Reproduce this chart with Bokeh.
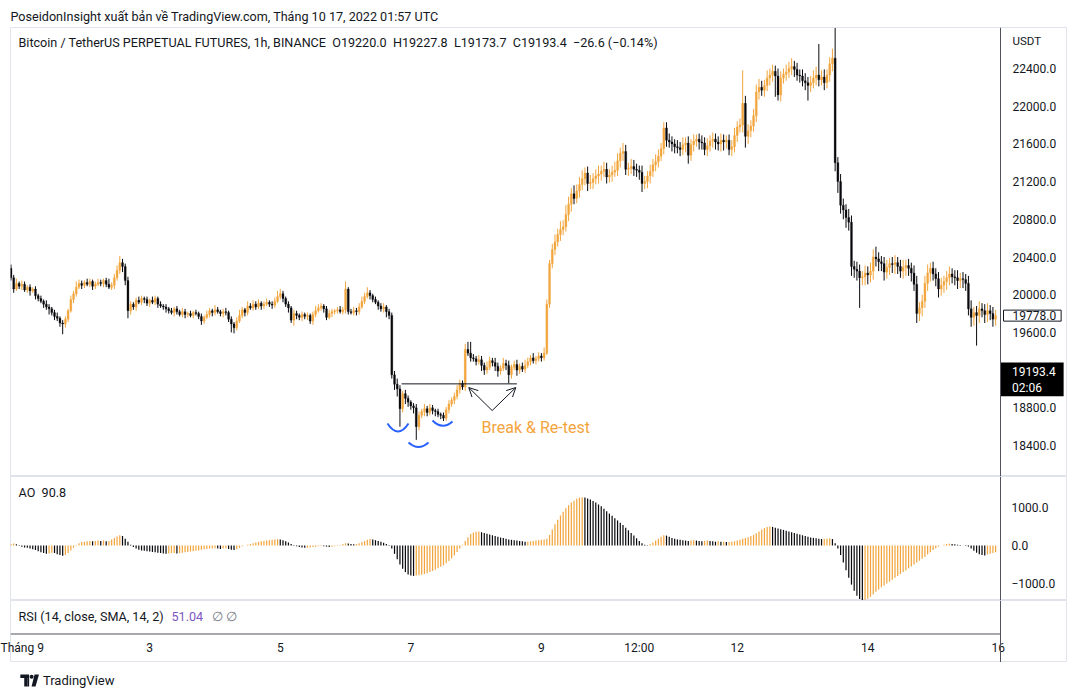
import numpy as np
import pandas as pd
from bokeh.plotting import figure
from bokeh.layouts import column
from bokeh.models import (Range1d, LinearAxis, FixedTicker, Label, Arrow, OpenHead,
                          ColumnDataSource, PrintfTickFormatter, Span)
from bokeh.embed import file_html
from bokeh.resources import INLINE

# ---------------- data (BTCUSDT perpetual, 1h) ----------------
start_time = "2022-08-31 21:00"
first_open = 20280
close = [
    20180, 20060, 20120, 20090, 20110, 20050, 20080, 20040, 20060, 19990,
    19960, 19930, 19900, 19870, 19850, 19810, 19770, 19750, 19700, 19690,
    19740, 19830, 19950, 20010, 20080, 20120, 20100, 20130, 20110, 20140,
    20090, 20110, 20130, 20120, 20150, 20110, 20080, 20100, 20180, 20260,
    20340, 20300, 20150, 19830, 19900, 19870, 19940, 19920, 19960, 19950,
    19910, 19940, 19920, 19960, 19900, 19880, 19870, 19850, 19830, 19810,
    19850, 19820, 19790, 19820, 19790, 19800, 19780, 19810, 19800, 19770,
    19720, 19760, 19790, 19830, 19810, 19840, 19820, 19800, 19820, 19810,
    19740, 19690, 19650, 19720, 19780, 19840, 19810, 19880, 19860, 19900,
    19870, 19910, 19880, 19900, 19920, 19900, 19890, 19930, 19980, 20010,
    19960, 19900, 19860, 19730, 19800, 19780, 19760, 19790, 19770, 19780,
    19720, 19790, 19830, 19860, 19880, 19850, 19760, 19800, 19820, 19830,
    19840, 19820, 19840, 20060, 19820, 19810, 19830, 19820, 19870, 19930,
    19980, 20020, 19990, 19950, 19920, 19880, 19850, 19870, 19820, 19780,
    19150, 19050, 19000, 18790, 18950, 18900, 18860, 18820, 18800, 18600,
    18720, 18760, 18790, 18750, 18800, 18770, 18760, 18730, 18720, 18690,
    18780, 18840, 18880, 18920, 18990, 19060, 19020, 19420, 19380, 19330,
    19320, 19290, 19310, 19250, 19200, 19230, 19300, 19280, 19240, 19190,
    19220, 19270, 19250, 19150, 19230, 19260, 19200, 19240, 19210, 19250,
    19290, 19330, 19300, 19320, 19350, 19330, 19380, 19900, 20330, 20480,
    20560, 20640, 20690, 20720, 20850, 20960, 21070, 21020, 21100, 21170,
    21230, 21290, 21180, 21190, 21230, 21260, 21280, 21310, 21330, 21250,
    21270, 21300, 21320, 21420, 21500, 21520, 21330, 21340, 21360, 21330,
    21320, 21300, 21180, 21200, 21260, 21310, 21380, 21410, 21470, 21550,
    21770, 21640, 21620, 21600, 21570, 21560, 21540, 21590, 21610, 21480,
    21590, 21630, 21650, 21620, 21610, 21540, 21580, 21630, 21650, 21620,
    21600, 21640, 21620, 21640, 21540, 21570, 21690, 21780, 21800, 22030,
    21680, 21740, 21790, 21900, 22150, 22200, 22170, 22220, 22300, 22330,
    22370, 22320, 22120, 22300, 22340, 22360, 22400, 22420, 22390, 22330,
    22320, 22270, 22250, 22220, 22250, 22300, 22330, 22280, 22310, 22250,
    22330, 22450, 22510, 21400, 21200, 20950, 20900, 20820, 20770, 20300,
    20270, 20250, 20180, 20190, 20230, 20210, 20250, 20400, 20380, 20350,
    20330, 20240, 20290, 20330, 20320, 20340, 20300, 20250, 20290, 20310,
    20280, 20230, 20110, 19800, 19860, 19930, 20120, 20230, 20280, 20220,
    20170, 20060, 20100, 20140, 20180, 20220, 20190, 20180, 20150, 20170,
    20160, 20120, 19850, 19760, 19810, 19780, 19850, 19830, 19790, 19830,
    19800, 19740, 19778,
]
wick_up = [
    40, 30, 50, 20, 40, 30, 20, 30, 20, 30,
    20, 30, 20, 40, 30, 20, 30, 40, 20, 30,
    30, 20, 40, 30, 60, 40, 30, 20, 40, 30,
    20, 30, 40, 30, 20, 30, 60, 30, 40, 50,
    70, 40, 30, 40, 30, 20, 30, 40, 30, 20,
    30, 20, 40, 30, 20, 30, 20, 30, 20, 30,
    20, 30, 20, 40, 30, 20, 30, 20, 30, 20,
    30, 20, 40, 30, 20, 50, 30, 20, 30, 40,
    20, 30, 20, 40, 60, 30, 20, 50, 30, 40,
    30, 40, 20, 30, 40, 20, 30, 40, 60, 50,
    30, 20, 30, 20, 40, 30, 20, 30, 20, 30,
    20, 30, 50, 40, 30, 20, 30, 40, 30, 20,
    30, 40, 30, 80, 20, 30, 40, 30, 40, 50,
    40, 60, 30, 20, 30, 20, 30, 40, 20, 30,
    30, 40, 60, 40, 30, 40, 30, 20, 30, 40,
    40, 30, 50, 30, 40, 30, 20, 30, 20, 30,
    30, 40, 30, 40, 50, 40, 30, 60, 80, 120,
    40, 30, 50, 40, 30, 60, 40, 30, 50, 40,
    30, 60, 40, 50, 30, 40, 50, 30, 40, 60,
    40, 30, 50, 30, 40, 30, 60, 50, 40, 60,
    80, 60, 90, 70, 100, 80, 60, 90, 70, 80,
    90, 60, 70, 80, 60, 70, 90, 60, 80, 70,
    60, 70, 90, 80, 60, 90, 70, 60, 80, 70,
    60, 50, 70, 60, 50, 70, 60, 80, 70, 60,
    60, 60, 70, 60, 50, 70, 60, 80, 60, 70,
    60, 70, 50, 60, 70, 60, 80, 60, 70, 60,
    60, 70, 60, 50, 60, 70, 80, 60, 70, 350,
    80, 70, 60, 70, 80, 90, 70, 60, 80, 70,
    70, 60, 80, 70, 60, 80, 70, 90, 60, 70,
    60, 70, 80, 60, 70, 80, 90, 330, 70, 80,
    60, 70, 100, 320, 60, 80, 70, 60, 90, 70,
    60, 80, 70, 60, 80, 70, 90, 80, 110, 70,
    60, 70, 80, 60, 70, 80, 60, 70, 80, 60,
    70, 60, 80, 90, 60, 70, 80, 90, 60, 70,
    60, 70, 80, 60, 70, 80, 60, 70, 80, 60,
    70, 60, 80, 90, 60, 70, 80, 60, 70, 80,
    60, 70, 60,
]
wick_down = [
    30, 40, 20, 30, 40, 20, 30, 50, 20, 40,
    30, 20, 40, 30, 60, 30, 40, 30, 40, 110,
    40, 30, 20, 40, 30, 20, 40, 30, 20, 30,
    40, 30, 20, 30, 40, 30, 20, 30, 40, 30,
    40, 60, 50, 80, 40, 30, 40, 20, 30, 40,
    30, 40, 20, 30, 40, 20, 30, 40, 30, 20,
    40, 30, 20, 30, 40, 30, 20, 30, 20, 30,
    40, 30, 20, 30, 40, 30, 20, 30, 40, 30,
    30, 90, 60, 30, 20, 30, 40, 30, 20, 30,
    30, 20, 40, 30, 20, 30, 40, 30, 20, 30,
    40, 30, 50, 30, 60, 40, 30, 40, 30, 40,
    30, 40, 30, 20, 30, 40, 30, 20, 40, 30,
    30, 20, 30, 40, 30, 20, 30, 40, 30, 20,
    30, 20, 40, 30, 20, 40, 30, 40, 60, 40,
    40, 60, 80, 190, 40, 60, 50, 40, 60, 140,
    40, 30, 50, 40, 30, 40, 50, 30, 40, 30,
    30, 40, 30, 40, 30, 40, 30, 40, 30, 40,
    30, 40, 30, 60, 50, 40, 30, 40, 50, 60,
    40, 30, 50, 90, 40, 30, 60, 40, 30, 40,
    30, 40, 30, 40, 30, 40, 30, 20, 40, 50,
    60, 50, 70, 60, 50, 70, 80, 60, 50, 70,
    60, 70, 80, 60, 70, 60, 80, 70, 60, 70,
    60, 70, 50, 60, 70, 80, 60, 70, 60, 70,
    70, 80, 90, 60, 70, 80, 60, 70, 60, 50,
    60, 70, 60, 80, 70, 60, 70, 60, 80, 90,
    60, 70, 60, 80, 70, 60, 70, 60, 70, 80,
    70, 80, 90, 70, 60, 70, 60, 70, 60, 80,
    120, 80, 70, 60, 70, 80, 60, 70, 60, 80,
    70, 220, 60, 70, 60, 70, 60, 70, 80, 60,
    70, 60, 80, 160, 70, 60, 80, 70, 60, 80,
    60, 70, 80, 90, 120, 90, 100, 110, 90, 100,
    90, 100, 320, 80, 90, 100, 80, 90, 80, 100,
    80, 90, 70, 80, 90, 100, 80, 70, 80, 90,
    80, 90, 70, 100, 80, 90, 70, 80, 90, 70,
    80, 90, 70, 80, 90, 80, 70, 80, 90, 80,
    90, 80, 70, 100, 90, 320, 80, 70, 90, 80,
    70, 80, 70,
]
ao = [
    40, 50, 30, -10, -30, -50, -60, -80, -100, -120,
    -150, -180, -200, -220, -210, -190, -200, -230, -250, -270,
    -250, -200, -130, -60, 10, 60, 90, 100, 110, 120,
    110, 120, 130, 120, 130, 110, 120, 160, 200, 240,
    270, 250, 180, 100, 20, -40, -80, -110, -130, -140,
    -150, -160, -170, -180, -190, -200, -210, -220, -210, -200,
    -200, -210, -200, -190, -180, -170, -160, -150, -140, -130,
    -110, -100, -90, -80, -80, -70, -80, -90, -80, -70,
    -90, -110, -120, -100, -60, -20, 0, 20, 40, 60,
    80, 100, 110, 120, 130, 140, 150, 160, 170, 160,
    140, 110, 80, 40, 10, -20, -40, -50, -60, -60,
    -50, -40, -30, -20, -10, -20, -30, -40, -30, -20,
    -10, 10, 40, 60, 50, 40, 30, 40, 60, 90,
    120, 150, 170, 160, 140, 120, 100, 70, 40, 10,
    -80, -220, -360, -500, -610, -700, -760, -790, -800, -790,
    -780, -770, -750, -730, -700, -670, -640, -600, -560, -520,
    -470, -410, -340, -260, -170, -80, 20, 120, 220, 300,
    340, 360, 370, 350, 330, 310, 290, 270, 250, 230,
    210, 200, 180, 160, 150, 140, 130, 120, 110, 100,
    100, 110, 120, 130, 140, 150, 160, 180, 280, 420,
    560, 680, 790, 890, 980, 1060, 1130, 1180, 1230, 1260,
    1270, 1260, 1240, 1210, 1170, 1130, 1080, 1030, 970, 900,
    840, 780, 720, 660, 600, 540, 470, 400, 330, 260,
    190, 120, 60, 20, 10, 30, 80, 130, 180, 230,
    270, 260, 230, 200, 180, 160, 150, 140, 130, 120,
    130, 140, 130, 120, 110, 120, 130, 120, 110, 100,
    110, 100, 100, 90, 90, 100, 110, 130, 150, 180,
    200, 220, 250, 280, 320, 370, 420, 460, 490, 500,
    490, 470, 450, 430, 410, 390, 370, 350, 330, 310,
    290, 270, 250, 230, 210, 200, 190, 180, 170, 170,
    180, 190, 170, 60, -80, -250, -450, -650, -850, -1030,
    -1190, -1320, -1410, -1440, -1430, -1400, -1350, -1290, -1220, -1160,
    -1100, -1050, -1000, -950, -900, -850, -800, -750, -700, -650,
    -600, -550, -500, -450, -400, -350, -300, -240, -180, -120,
    -70, -30, 0, 20, 40, 50, 40, 30, 20, 10,
    0, -10, -30, -80, -140, -190, -230, -250, -260, -240,
    -220, -200, -180,
]
price_ticks = [18400, 18800, 19600, 20000, 20400, 20800, 21200, 21600, 22000, 22400]
ao_ticks = [-1000, 0, 1000]
ao_tick_labels = ["\u22121000.0", "0.0", "1000.0"]
time_tick_times = ["2022-09-01 00:00", "2022-09-03 00:00", "2022-09-05 00:00", "2022-09-07 00:00",
                   "2022-09-09 00:00", "2022-09-10 12:00", "2022-09-12 00:00", "2022-09-14 00:00",
                   "2022-09-16 00:00"]
time_tick_labels = ["Tháng 9", "3", "5", "7", "9", "12:00", "12", "14", "16"]

NB = "\u00a0"
header = "PoseidonInsight xuất bản về TradingView.com, Tháng 10 17, 2022 01:57 UTC"
legend = NB.join(["Bitcoin / TetherUS PERPETUAL FUTURES, 1h, BINANCE", "", "O19220.0", "",
                  "H19227.8", "", "L19173.7", "", "C19193.4", "", "\u221226.6 (\u22120.14%)"])
last_bar_price = 19778.0
live_price = 19193.4
countdown = "02:06"
ao_value = "90.8"
rsi_title = "RSI (14, close, SMA, 14, 2)"
rsi_value = "51.04"

# annotation drawn on the chart (time in hours from start, price)
break_level = 19054
break_from, break_to = 143.6, 186.0
arrow_vertex = (176.9, 18771)
arrow_left = (168.3, 19015)
arrow_right = (185.6, 19015)

# ---------------- styling / geometry ----------------
FONT = "Roboto"
TS = "12.6px"
INK = "#131722"
ORANGE = "#F2A53C"
BLACK = "#0A0A0E"
LIGHT = "#E0E3EB"
DARK = "#50535E"
BLUE = "#2962FF"

PX_PER_H = 2.72
X_LO = -0.18
X_HI = X_LO + 1056 / PX_PER_H   # frame spans page x 10 .. 1066
USD_PER_PX = 10.61


def hx(px):  # page x pixel -> hours
    return X_LO + (px - 10) / PX_PER_H


def py(ypx):  # page y pixel -> price (main pane)
    return 22400 - (ypx - 68) * USD_PER_PX


def ay(ypx):  # page y pixel -> AO value
    return (545 - ypx) / 38 * 1000


def ry(ypx):  # page y pixel -> RSI/time pane units (0..100 over page y 662..600)
    return (662 - ypx) / 62 * 100


n = len(close)
c = np.array(close, dtype=float)
o = np.array([first_open] + close[:-1], dtype=float)
top = np.maximum(o, c)
bot = np.minimum(o, c)
hi = top + np.array(wick_up)
lo = bot - np.array(wick_down)
x = np.arange(n)
t0 = pd.Timestamp(start_time)
colors = np.where(c >= o, ORANGE, BLACK)
src = ColumnDataSource(dict(x=x, top=top, bot=bot, hi=hi, lo=lo, color=colors))

ao_arr = np.array(ao, dtype=float)
ao_prev = np.concatenate([[ao_arr[0] - 1], ao_arr[:-1]])
ao_colors = np.where(ao_arr >= ao_prev, ORANGE, BLACK)
ao_src = ColumnDataSource(dict(x=x, ao=ao_arr, color=ao_colors))

xr = Range1d(X_LO, X_HI)
SCALE_X = hx(1000)   # left edge of the price scale


def style_axis(ax):
    ax.major_tick_line_color = None
    ax.minor_tick_line_color = None
    ax.major_tick_out = 0
    ax.major_tick_in = 0
    ax.axis_line_color = None
    ax.major_label_text_font = FONT
    ax.major_label_text_font_size = "12px"
    ax.major_label_text_color = INK


def base_fig(h, yr, bottom=0, top_b=0, yloc="right"):
    f = figure(width=1076, height=h, x_range=xr, y_range=yr, output_backend="svg",
               toolbar_location=None, x_axis_location=None, y_axis_location=yloc,
               min_border_left=10, min_border_right=10, min_border_top=top_b,
               min_border_bottom=bottom, outline_line_color=LIGHT,
               background_fill_color="white", border_fill_color="white")
    f.grid.visible = False
    f.add_layout(Span(location=SCALE_X, dimension="height", line_color=DARK, line_width=1))
    return f


def text(fig, xx, yy, s, color=INK, size=TS, **kw):
    fig.add_layout(Label(x=xx, y=yy, text=s, text_font=FONT, text_font_size=size,
                         text_color=color, text_baseline=kw.pop("baseline", "middle"), **kw))


# ---- main price pane ----
pm = base_fig(476, Range1d(py(476), py(27)), top_b=27)
pm.title.text = header
pm.title.text_font = FONT
pm.title.text_font_size = TS
pm.title.text_font_style = "normal"
pm.title.text_color = INK
pm.title.align = "left"
pm.title.standoff = 7
ax = pm.yaxis[0]
style_axis(ax)
ax.ticker = FixedTicker(ticks=price_ticks)
ax.formatter = PrintfTickFormatter(format="%.1f")
ax.major_label_standoff = -54

pm.segment(x0="x", y0="hi", x1="x", y1="lo", line_color="color", line_width=1, source=src)
pm.vbar(x="x", width=0.72, top="top", bottom="bot", fill_color="color", line_color="color",
        line_width=0.3, source=src)

pm.segment(x0=[break_from], y0=[break_level], x1=[break_to], y1=[break_level],
           line_color=INK, line_width=1)
for end in (arrow_left, arrow_right):
    pm.add_layout(Arrow(end=OpenHead(size=9, line_color=INK, line_width=1),
                        x_start=arrow_vertex[0], y_start=arrow_vertex[1],
                        x_end=end[0], y_end=end[1], line_color=INK, line_width=1))
text(pm, hx(481), py(427), "Break & Re-test", color="#F4A43C", size="16px")
arcs = [((387, 423), (408, 423), (397.5, 439)),
        ((408, 442), (428, 442), (418, 451)),
        ((432, 420), (452, 421), (442, 430))]
pm.quadratic(x0=[hx(a[0][0]) for a in arcs], y0=[py(a[0][1]) for a in arcs],
             x1=[hx(a[1][0]) for a in arcs], y1=[py(a[1][1]) for a in arcs],
             cx=[hx(a[2][0]) for a in arcs], cy=[py(a[2][1]) for a in arcs],
             line_color=BLUE, line_width=2)

text(pm, hx(18), py(42), legend)
text(pm, hx(1012), py(40), "USDT", size="11.5px")
text(pm, hx(1003), last_bar_price, f"{last_bar_price:.1f}", size="12px",
     background_fill_color="white", border_line_color=INK,
     padding=dict(left=9, right=5, top=1, bottom=1))
text(pm, hx(1000.5), py(362), f"{live_price:.1f}\n{countdown}", color="white", size="12px",
     baseline="top", background_fill_color="black",
     padding=dict(left=11, right=8, top=2, bottom=1))

# ---- AO pane ----
pa = base_fig(124, Range1d(ay(600), ay(476)))
ax = pa.yaxis[0]
style_axis(ax)
ax.ticker = FixedTicker(ticks=ao_ticks)
ax.major_label_overrides = {t: l for t, l in zip(ao_ticks, ao_tick_labels)}
ax.major_label_standoff = -55
pa.vbar(x="x", width=0.45, top="ao", bottom=0, fill_color="color", line_color=None, source=ao_src)
text(pa, hx(18), ay(492), f"AO{NB}{NB}{ao_value}")

# ---- RSI pane + time axis (frame spans page y 600..662) ----
pr = base_fig(62, Range1d(0, 100), bottom=0, yloc=None)
tick_pos = [(pd.Timestamp(t) - t0) / pd.Timedelta(hours=1) for t in time_tick_times]
xa = LinearAxis(ticker=FixedTicker(ticks=tick_pos),
                major_label_overrides={p: l for p, l in zip(tick_pos, time_tick_labels)})
style_axis(xa)
xa.major_label_standoff = -22
pr.add_layout(xa, "below")
pr.segment(x0=[X_LO], y0=[ry(633.5)], x1=[SCALE_X], y1=[ry(633.5)], line_color=DARK, line_width=1)
text(pr, hx(18), ry(616), rsi_title)
text(pr, hx(171), ry(616), rsi_value, color="#7E57C2")
text(pr, hx(211), ry(616), f"\u2205{NB}\u2205", color="#787B86")

# ---- footer ----
pf = figure(width=1076, height=35, x_range=Range1d(0, 1076), y_range=Range1d(35, 0),
            output_backend="svg", toolbar_location=None, x_axis_location=None,
            y_axis_location=None, min_border=0, outline_line_color=None)
pf.grid.visible = False
pf.patch(x=[10, 19, 19, 17.5, 17.5, 14, 14, 10], y=[12, 12, 24, 24, 15.5, 15.5, 15.5, 15.5],
         fill_color=INK, line_color=None)
pf.patch(x=[14, 17.5, 17.5, 14], y=[15.5, 15.5, 24, 24], fill_color=INK, line_color=None)
pf.scatter(x=[21.5], y=[14.2], size=4, fill_color=INK, line_color=None)
pf.patch(x=[24.5, 29, 25.5, 21.5], y=[12, 12, 24, 24], fill_color=INK, line_color=None)
text(pf, 33, 18, "TradingView", size="13px")

layout = column(pm, pa, pr, pf, spacing=0)
open("out.html", "w").write(file_html(layout, INLINE))
